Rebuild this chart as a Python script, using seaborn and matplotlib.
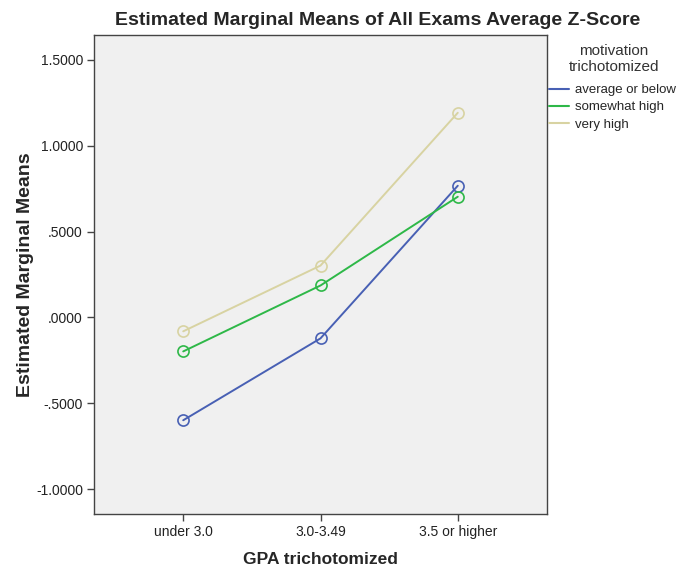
import pandas as pd
import matplotlib
matplotlib.use("Agg")
import matplotlib.pyplot as plt
from matplotlib.lines import Line2D
import seaborn as sns

# values
gpa_levels = ["under 3.0", "3.0-3.49", "3.5 or higher"]
motivation_levels = ["average or below", "somewhat high", "very high"]
avg_or_below = [-0.599, -0.122, 0.767]
somewhat_high = [-0.198, 0.186, 0.703]
very_high = [-0.081, 0.302, 1.192]
colors = ["#4860B4", "#2EB848", "#D8D3A2"]

rows = []
for lvl, vals in zip(motivation_levels, [avg_or_below, somewhat_high, very_high]):
    for g, v in zip(gpa_levels, vals):
        rows.append({"GPA": g, "motivation": lvl, "mean": v})
df = pd.DataFrame(rows)
df["x"] = df["GPA"].map({g: i for i, g in enumerate(gpa_levels)})

sns.set_style("white")
plt.rcParams["font.family"] = ["Liberation Sans", "DejaVu Sans"]

fig = plt.figure(figsize=(6.77, 5.67), dpi=100)
ax = fig.add_axes([94 / 677, 1 - 514 / 567, (547 - 94) / 677, (514 - 35) / 567])
ax.set_facecolor("#F0F0F0")

palette = dict(zip(motivation_levels, colors))
sns.lineplot(data=df, x="x", y="mean", hue="motivation", hue_order=motivation_levels,
             palette=palette, marker="o", markersize=8, markerfacecolor="none",
             markeredgewidth=1.2, linewidth=1.4, legend=False, ax=ax)
# open circles take the line colour
for line, c in zip(ax.get_lines(), colors):
    line.set_markeredgecolor(c)

ax.set_xlim(-0.65, 2.65)
ax.set_ylim(-1.145, 1.645)
ax.set_xticks(range(len(gpa_levels)))
ax.set_xticklabels(gpa_levels)
yt = [-1.0, -0.5, 0.0, 0.5, 1.0, 1.5]
ax.set_yticks(yt)
ax.set_yticklabels(["-1.0000", "-.5000", ".0000", ".5000", "1.0000", "1.5000"])
ax.tick_params(axis="both", direction="out", length=5, width=1, color="#444444",
               labelsize=10, labelcolor="#222222", bottom=True, left=True, pad=3)
for s in ax.spines.values():
    s.set_color("#444444")
    s.set_linewidth(1)

ax.set_xlabel("GPA trichotomized", fontsize=12.5, fontweight="bold", labelpad=9)
ax.set_ylabel("Estimated Marginal Means", fontsize=14, fontweight="bold", labelpad=1)
fig.suptitle("Estimated Marginal Means of All Exams Average Z-Score",
             x=378 / 677, y=1 - 12 / 567, va="top", fontsize=14, fontweight="bold")

# legend title drawn separately so the gap above the entries matches
fig.text(614 / 677, 1 - 59 / 567, "motivation\ntrichotomized", ha="center",
         va="center", fontsize=11, color="#333333", multialignment="center",
         linespacing=1.2)
handles = [Line2D([], [], color=c, lw=1.5) for c in colors]
fig.legend(handles, motivation_levels, loc="upper left",
           bbox_to_anchor=(549 / 677, 1 - 84 / 567),
           frameon=False, fontsize=9.5, borderpad=0,
           handlelength=1.5, handletextpad=0.45, labelspacing=0.38,
           borderaxespad=0)

fig.savefig("out.png", dpi=100)
